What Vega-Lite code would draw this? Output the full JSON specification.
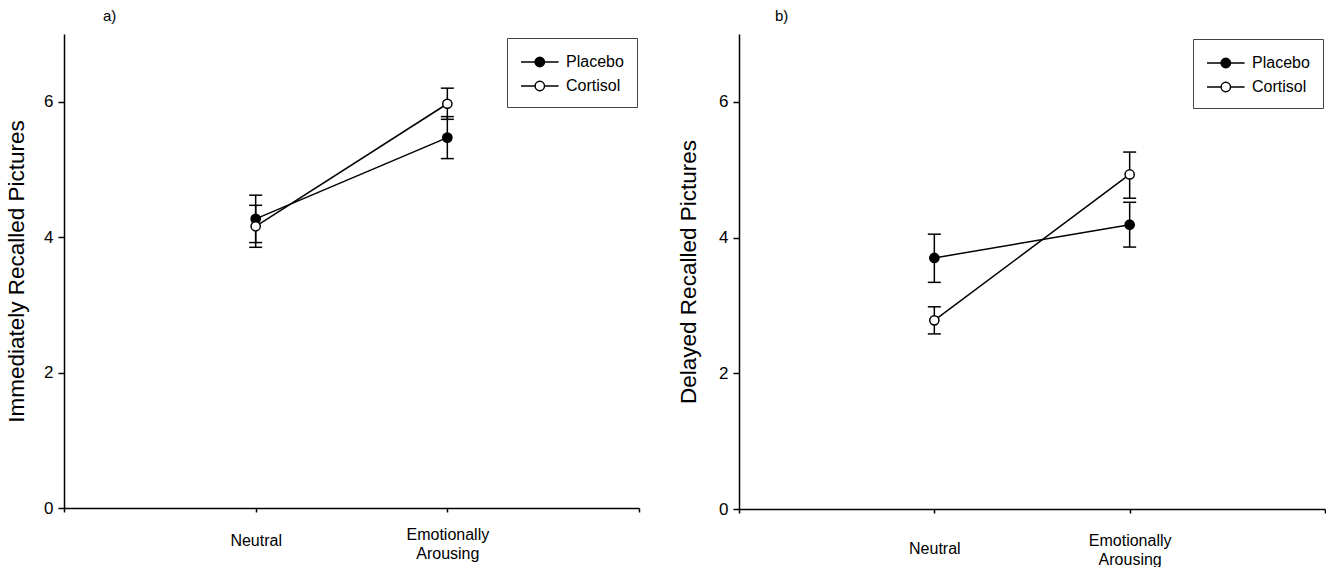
{
  "$schema": "https://vega.github.io/schema/vega-lite/v6.json",
  "background": "white",
  "padding": {"left": 5, "top": 9, "right": 0, "bottom": 0},
  "bounds": "flush",
  "spacing": 100,
  "config": {
    "view": {"stroke": null},
    "font": "Liberation Sans",
    "axis": {
      "grid": false,
      "domainColor": "black",
      "domainWidth": 1.5,
      "tickColor": "black",
      "tickWidth": 1.5,
      "labelColor": "black",
      "labelFont": "Liberation Sans",
      "labelFontSize": 17,
      "titleColor": "black",
      "titleFont": "Liberation Sans",
      "titleFontWeight": "normal",
      "titleFontSize": 22.5
    },
    "title": {"font": "Liberation Sans", "fontSize": 15, "fontWeight": "normal", "color": "black", "anchor": "start", "frame": "group", "offset": 10},
    "legend": {
      "title": null,
      "symbolType": "M-1,0H0.41M1.35,0H2.76M0.41,0A0.47,0.47 0 1,0 1.35,0A0.47,0.47 0 1,0 0.41,0",
      "symbolSize": 400,
      "symbolStrokeColor": "black",
      "symbolStrokeWidth": 1.5,
      "symbolOpacity": 1,
      "labelFont": "Liberation Sans",
      "labelFontSize": 16,
      "labelColor": "black",
      "labelOffset": 24,
      "strokeColor": "#444",
      "fillColor": "white",
      "padding": 13,
      "rowPadding": 5
    }
  },
  "datasets": {
    "recall": [
      {"panel": "a", "condition": 1, "group": "Placebo", "mean": 4.27, "lo": 3.92, "hi": 4.62},
      {"panel": "a", "condition": 1, "group": "Cortisol", "mean": 4.16, "lo": 3.85, "hi": 4.47},
      {"panel": "a", "condition": 2, "group": "Placebo", "mean": 5.47, "lo": 5.16, "hi": 5.78},
      {"panel": "a", "condition": 2, "group": "Cortisol", "mean": 5.97, "lo": 5.74, "hi": 6.20},
      {"panel": "b", "condition": 1, "group": "Placebo", "mean": 3.70, "lo": 3.34, "hi": 4.05},
      {"panel": "b", "condition": 1, "group": "Cortisol", "mean": 2.78, "lo": 2.58, "hi": 2.98},
      {"panel": "b", "condition": 2, "group": "Placebo", "mean": 4.19, "lo": 3.86, "hi": 4.52},
      {"panel": "b", "condition": 2, "group": "Cortisol", "mean": 4.93, "lo": 4.58, "hi": 5.26}
    ]
  },
  "resolve": {"scale": {"fill": "independent", "x": "independent", "y": "independent"}, "legend": {"fill": "independent"}, "axis": {"x": "independent", "y": "independent"}},
  "hconcat": [
    {
      "width": 575,
      "height": 474,
      "title": {"text": "a)", "dx": 39},
      "data": {"name": "recall"},
      "transform": [{"filter": "datum.panel == 'a'"}],
      "encoding": {
        "x": {"field": "condition", "type": "quantitative", "scale": {"domain": [0, 3]},
          "axis": {"title": null, "values": [0, 1, 2, 3], "labelExpr": "datum.value == 1 ? 'Neutral' : datum.value == 2 ? ['Emotionally', 'Arousing'] : ''", "labelBaseline": "middle", "labelPadding": {"condition": {"test": "datum.value == 2", "value": 22}, "value": 28}, "labelFontSize": 16, "labelLineHeight": 19, "tickSize": 4, "labelOverlap": false, "labelFlush": false}}
      },
      "layer": [
        {"mark": {"type": "rule", "color": "black", "strokeWidth": 1.5},
          "encoding": {"y": {"field": "lo", "type": "quantitative", "title": "Immediately Recalled Pictures", "scale": {"domain": [0, 7]}, "axis": {"values": [0, 2, 4, 6], "format": "d", "tickSize": 6, "labelPadding": 5, "titlePadding": 15}}, "y2": {"field": "hi"}}},
        {"mark": {"type": "tick", "orient": "horizontal", "size": 13, "thickness": 1.5, "color": "black", "opacity": 1},
          "encoding": {"y": {"field": "lo", "type": "quantitative", "title": "Immediately Recalled Pictures"}}},
        {"mark": {"type": "tick", "orient": "horizontal", "size": 13, "thickness": 1.5, "color": "black", "opacity": 1},
          "encoding": {"y": {"field": "hi", "type": "quantitative", "title": "Immediately Recalled Pictures"}}},
        {"mark": {"type": "line", "color": "black", "strokeWidth": 1.5},
          "encoding": {"y": {"field": "mean", "type": "quantitative", "title": "Immediately Recalled Pictures"}, "detail": {"field": "group"}}},
        {"mark": {"type": "point", "filled": true, "size": 85, "stroke": "black", "strokeWidth": 1.5, "opacity": 1},
          "encoding": {"y": {"field": "mean", "type": "quantitative", "title": "Immediately Recalled Pictures"},
            "fill": {"field": "group", "type": "nominal", "scale": {"domain": ["Placebo", "Cortisol"], "range": ["black", "white"]},
              "legend": {"orient": "none", "legendX": 443, "legendY": 4}}}}
      ]
    },
    {
      "width": 586,
      "height": 475,
      "title": {"text": "b)", "dx": 36},
      "data": {"name": "recall"},
      "transform": [{"filter": "datum.panel == 'b'"}],
      "encoding": {
        "x": {"field": "condition", "type": "quantitative", "scale": {"domain": [0, 3]},
          "axis": {"title": null, "values": [0, 1, 2, 3], "labelExpr": "datum.value == 1 ? 'Neutral' : datum.value == 2 ? ['Emotionally', 'Arousing'] : ''", "labelBaseline": "middle", "labelPadding": {"condition": {"test": "datum.value == 2", "value": 27}, "value": 35}, "labelFontSize": 16, "labelLineHeight": 19, "tickSize": 4, "labelOverlap": false, "labelFlush": false}}
      },
      "layer": [
        {"mark": {"type": "rule", "color": "black", "strokeWidth": 1.5},
          "encoding": {"y": {"field": "lo", "type": "quantitative", "title": "Delayed Recalled Pictures", "scale": {"domain": [0, 7]}, "axis": {"values": [0, 2, 4, 6], "format": "d", "tickSize": 6, "labelPadding": 5, "titlePadding": 18}}, "y2": {"field": "hi"}}},
        {"mark": {"type": "tick", "orient": "horizontal", "size": 13, "thickness": 1.5, "color": "black", "opacity": 1},
          "encoding": {"y": {"field": "lo", "type": "quantitative", "title": "Delayed Recalled Pictures"}}},
        {"mark": {"type": "tick", "orient": "horizontal", "size": 13, "thickness": 1.5, "color": "black", "opacity": 1},
          "encoding": {"y": {"field": "hi", "type": "quantitative", "title": "Delayed Recalled Pictures"}}},
        {"mark": {"type": "line", "color": "black", "strokeWidth": 1.5},
          "encoding": {"y": {"field": "mean", "type": "quantitative", "title": "Delayed Recalled Pictures"}, "detail": {"field": "group"}}},
        {"mark": {"type": "point", "filled": true, "size": 85, "stroke": "black", "strokeWidth": 1.5, "opacity": 1},
          "encoding": {"y": {"field": "mean", "type": "quantitative", "title": "Delayed Recalled Pictures"},
            "fill": {"field": "group", "type": "nominal", "scale": {"domain": ["Placebo", "Cortisol"], "range": ["black", "white"]},
              "legend": {"orient": "none", "legendX": 454, "legendY": 5}}}}
      ]
    }
  ]
}
